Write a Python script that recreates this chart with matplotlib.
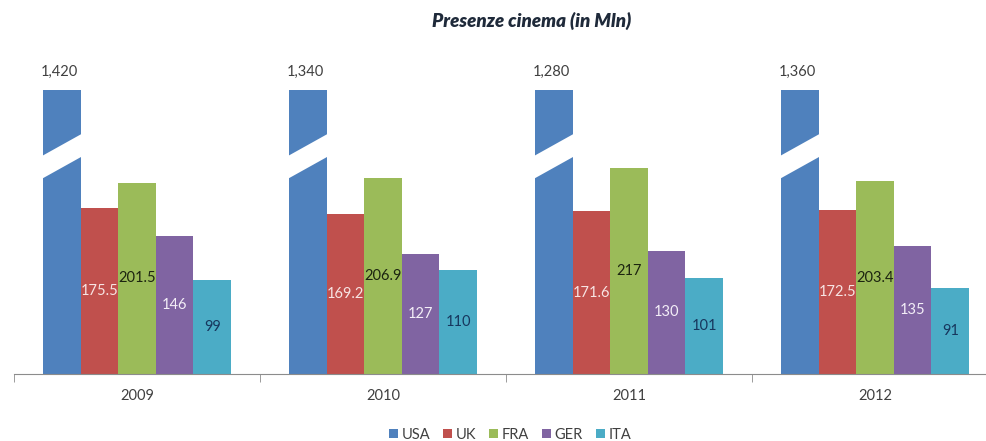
#!/usr/bin/env python3
# Presenze cinema - grouped bars with broken USA column

import numpy as np
import matplotlib
matplotlib.use("Agg")
import matplotlib.pyplot as plt
from matplotlib.patches import Patch, Polygon

# data
years = ["2009", "2010", "2011", "2012"]
countries = ["USA", "UK", "FRA", "GER", "ITA"]
usa = [1420, 1340, 1280, 1360]
uk = [175.5, 169.2, 171.6, 172.5]
fra = [201.5, 206.9, 217, 203.4]
ger = [146, 127, 130, 135]
ita = [99, 110, 101, 91]

# style
colors = ["#4F81BD", "#C0504D", "#9BBB59", "#8064A2", "#4BACC6"]
label_colors = [None, "#F7E4E3", "#1C2410", "#F3EEF7", "#17375E"]
USA_CAP = 300      # drawn height of the broken USA column
W = 0.153          # bar width (category = 1)

plt.rcParams['font.family'] = ['Lato', 'DejaVu Sans']

fig = plt.figure(figsize=(9.87, 4.41), dpi=100)
ax = fig.add_axes([14/987, 67/441, 984/987, 330/441])

x = np.arange(len(years))
series = [usa, uk, fra, ger, ita]

for i, vals in enumerate(series):
	xs = x + (i - 2) * W
	if i == 0:
		ax.bar(xs, [USA_CAP]*len(vals), W, color=colors[i], linewidth=0)
		for xc, v in zip(xs, vals):
			ax.text(xc - 0.01, USA_CAP + 19, f"{v:,}", ha='center', va='center',
				fontsize=10.5, color='#404040')
			# white slanted cut = axis break
			x0, x1 = xc - W/2 - 0.01, xc + W/2 + 0.01
			lo0, lo1 = 205, 230
			band = 24
			poly = Polygon([(x0, lo0), (x1, lo1), (x1, lo1 + band), (x0, lo0 + band)],
				closed=True, facecolor='white', edgecolor='none', zorder=3)
			ax.add_patch(poly)
	else:
		ax.bar(xs, vals, W, color=colors[i], linewidth=0)
		for xc, v in zip(xs, vals):
			ax.text(xc, v/2, f"{v:g}", ha='center', va='center',
				fontsize=10.5, color=label_colors[i], zorder=4)

ax.set_xlim(-0.5, len(years) - 0.5)
ax.set_ylim(0, 348)

# axis cosmetics
for s in ['top', 'right', 'left']:
	ax.spines[s].set_visible(False)
ax.spines['bottom'].set_color('#8C8C8C')
ax.set_yticks([])
ax.set_xticks(x)
ax.set_xticklabels(years, fontsize=10.5, color='#404040')
ax.tick_params(axis='x', which='major', length=0, pad=11)
ax.set_xticks(np.arange(-0.5, len(years), 1), minor=True)
ax.tick_params(axis='x', which='minor', length=6, color='#8C8C8C', direction='out')

fig.text(532/987, 1 - 21/441, "Presenze cinema (in Mln)", ha='center', va='center',
	fontsize=13.5, fontweight='heavy', fontstyle='italic', color='#1F2A3A')

handles = [Patch(facecolor=c, edgecolor='none') for c in colors]
fig.legend(handles, countries, loc='center', bbox_to_anchor=(510/987, 1 - 435/441),
	ncol=5, frameon=False, fontsize=10.5, handlelength=0.6, handleheight=0.6,
	handletextpad=0.25, columnspacing=0.9, labelcolor='#404040')

fig.savefig("out.png", dpi=100)
